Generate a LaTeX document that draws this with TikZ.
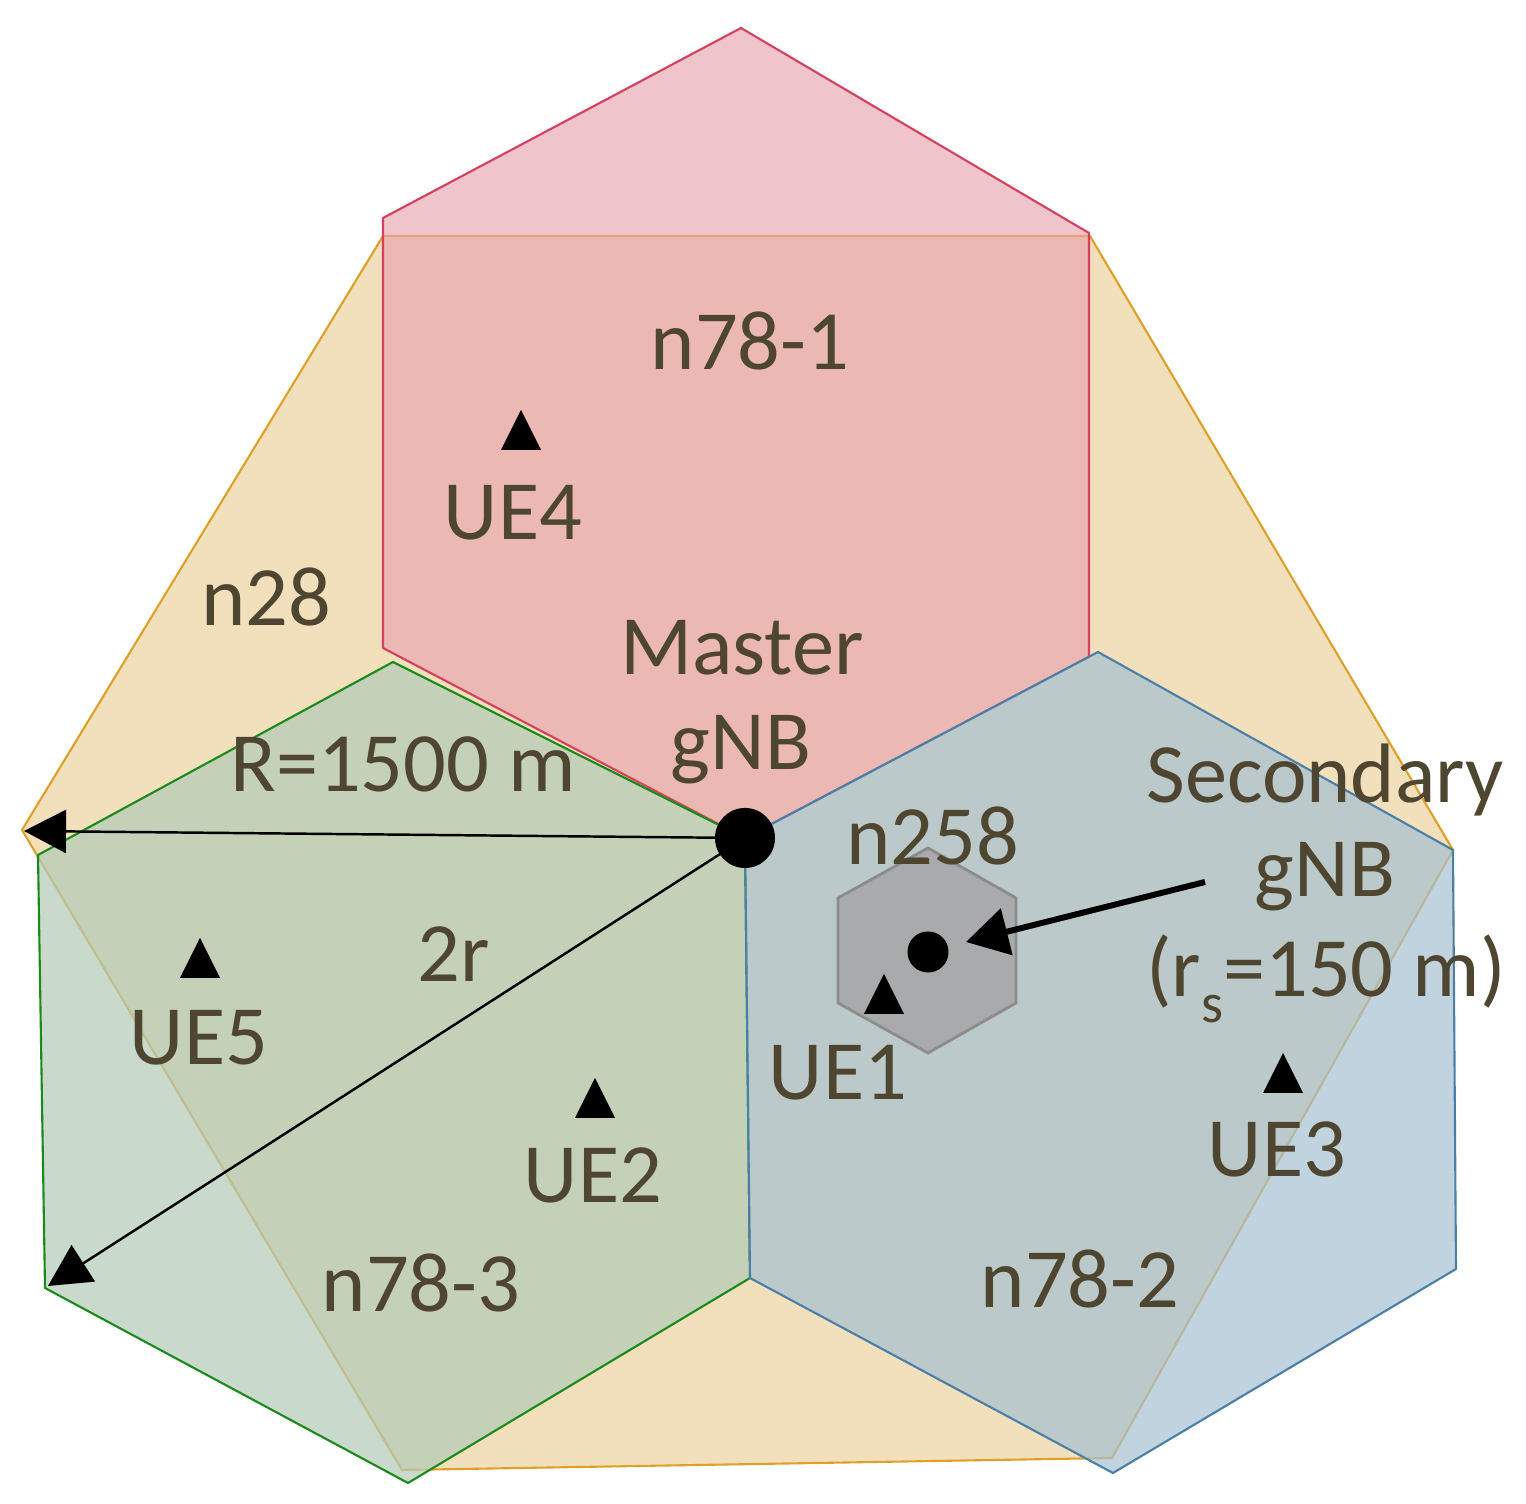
\documentclass[tikz,border=0pt]{standalone}
\usepackage{fontspec}
\setmainfont{Carlito}
\usetikzlibrary{arrows.meta}
\definecolor{tanF}{RGB}{241,224,187}
\definecolor{tanD}{RGB}{224,160,40}
\definecolor{pinkF}{RGB}{232,164,175}
\definecolor{pinkD}{RGB}{214,64,94}
\definecolor{greenF}{RGB}{180,202,183}
\definecolor{greenD}{RGB}{26,138,26}
\definecolor{blueF}{RGB}{166,192,209}
\definecolor{blueD}{RGB}{74,127,168}
\definecolor{grayF}{RGB}{168,170,171}
\definecolor{grayD}{RGB}{140,140,140}
\definecolor{txt}{RGB}{78,70,48}
\begin{document}
\begin{tikzpicture}[x=0.01cm,y=-0.01cm,
  lbl/.style={text=txt, font=\fontsize{24}{27}\selectfont, anchor=base, inner sep=0pt},
  cell/.style={line width=0.6pt, line join=round},
  dotnode/.style={circle, fill=black, inner sep=0pt},
  thinarrow/.style={line width=0.7pt, black, -{Triangle[length=0.42cm,width=0.43cm]}},
  thickarrow/.style={line width=1.7pt, black, -{Triangle[length=0.42cm,width=0.47cm]}},
  uetri/.pic={\fill[black] (-20,20) -- (20,20) -- (0,-20) -- cycle;}]
\useasboundingbox (0,0) rectangle (1526,1504);
% n28 macro cell
\filldraw[cell, fill=tanF, draw=tanD]
  (22,830) -- (383,236) -- (1090,236) -- (1453,850) -- (1112,1458) -- (402,1470) -- cycle;
% n78-1
\filldraw[cell, fill=pinkF, fill opacity=0.65, draw=pinkD]
  (741,28) -- (1089,233) -- (1089,657) -- (745,838) -- (383,648) -- (383,218) -- cycle;
% n78-3
\filldraw[cell, fill=greenF, fill opacity=0.72, draw=greenD]
  (393,662) -- (745,838) -- (750,1278) -- (408,1483) -- (45,1288) -- (38,855) -- cycle;
% n78-2
\filldraw[cell, fill=blueF, fill opacity=0.7, draw=blueD]
  (1098,652) -- (1453,850) -- (1456,1269) -- (1113,1473) -- (750,1278) -- (745,838) -- cycle;
% n258 small cell
\filldraw[line width=0.8pt, fill=grayF, draw=grayD]
  (928,848) -- (1016,898) -- (1016,1003) -- (928,1053) -- (838,1003) -- (838,898) -- cycle;

% arrow end points
\coordinate (mc) at (745,838);
\coordinate (rEnd) at (24,831);
\coordinate (dEnd) at (48,1286);
\coordinate (sStart) at (1205,882);
\coordinate (sEnd) at (966,942);

% radius arrows from master gNB
\draw[thinarrow] (mc) -- (rEnd);
\draw[thinarrow] (mc) -- (dEnd);

% gNB nodes
\node[dotnode, minimum size=0.6cm] (m) at (mc) {};
\node[dotnode, minimum size=0.41cm] (s) at (928,952) {};
\draw[thickarrow] (sStart) -- (sEnd);

% UEs
\pic at (521,430) {uetri};
\pic at (200,958) {uetri};
\pic at (884,994) {uetri};
\pic at (595,1098) {uetri};
\pic at (1283,1073) {uetri};

% labels
\node[lbl] (t781) at (750,370) {n78-1};
\node[lbl] (tue4) at (513,540) {UE4};
\node[lbl] (t28) at (266,626) {n28};
\node[lbl] (tm1) at (742,675) {Master};
\node[lbl] (tm2) at (741,770) {gNB};
\node[lbl] (tR) at (403,792) {R=1500 m};
\node[lbl] (t258) at (933,865) {n258};
\node[lbl] (ts1) at (1325,803) {Secondary};
\node[lbl] (ts2) at (1325,897) {gNB};
\node[lbl] (ts3) at (1326,997) {(r\raisebox{-0.3em}{\fontsize{16}{16}\selectfont s}=150 m)};
\node[lbl] (t2r) at (454,982) {2r};
\node[lbl] (tue5) at (199,1065) {UE5};
\node[lbl] (tue1) at (838,1100) {UE1};
\node[lbl] (tue2) at (593,1203) {UE2};
\node[lbl] (tue3) at (1277,1177) {UE3};
\node[lbl] (t783) at (421,1312) {n78-3};
\node[lbl] (t782) at (1080,1308) {n78-2};
\end{tikzpicture}
\end{document}
